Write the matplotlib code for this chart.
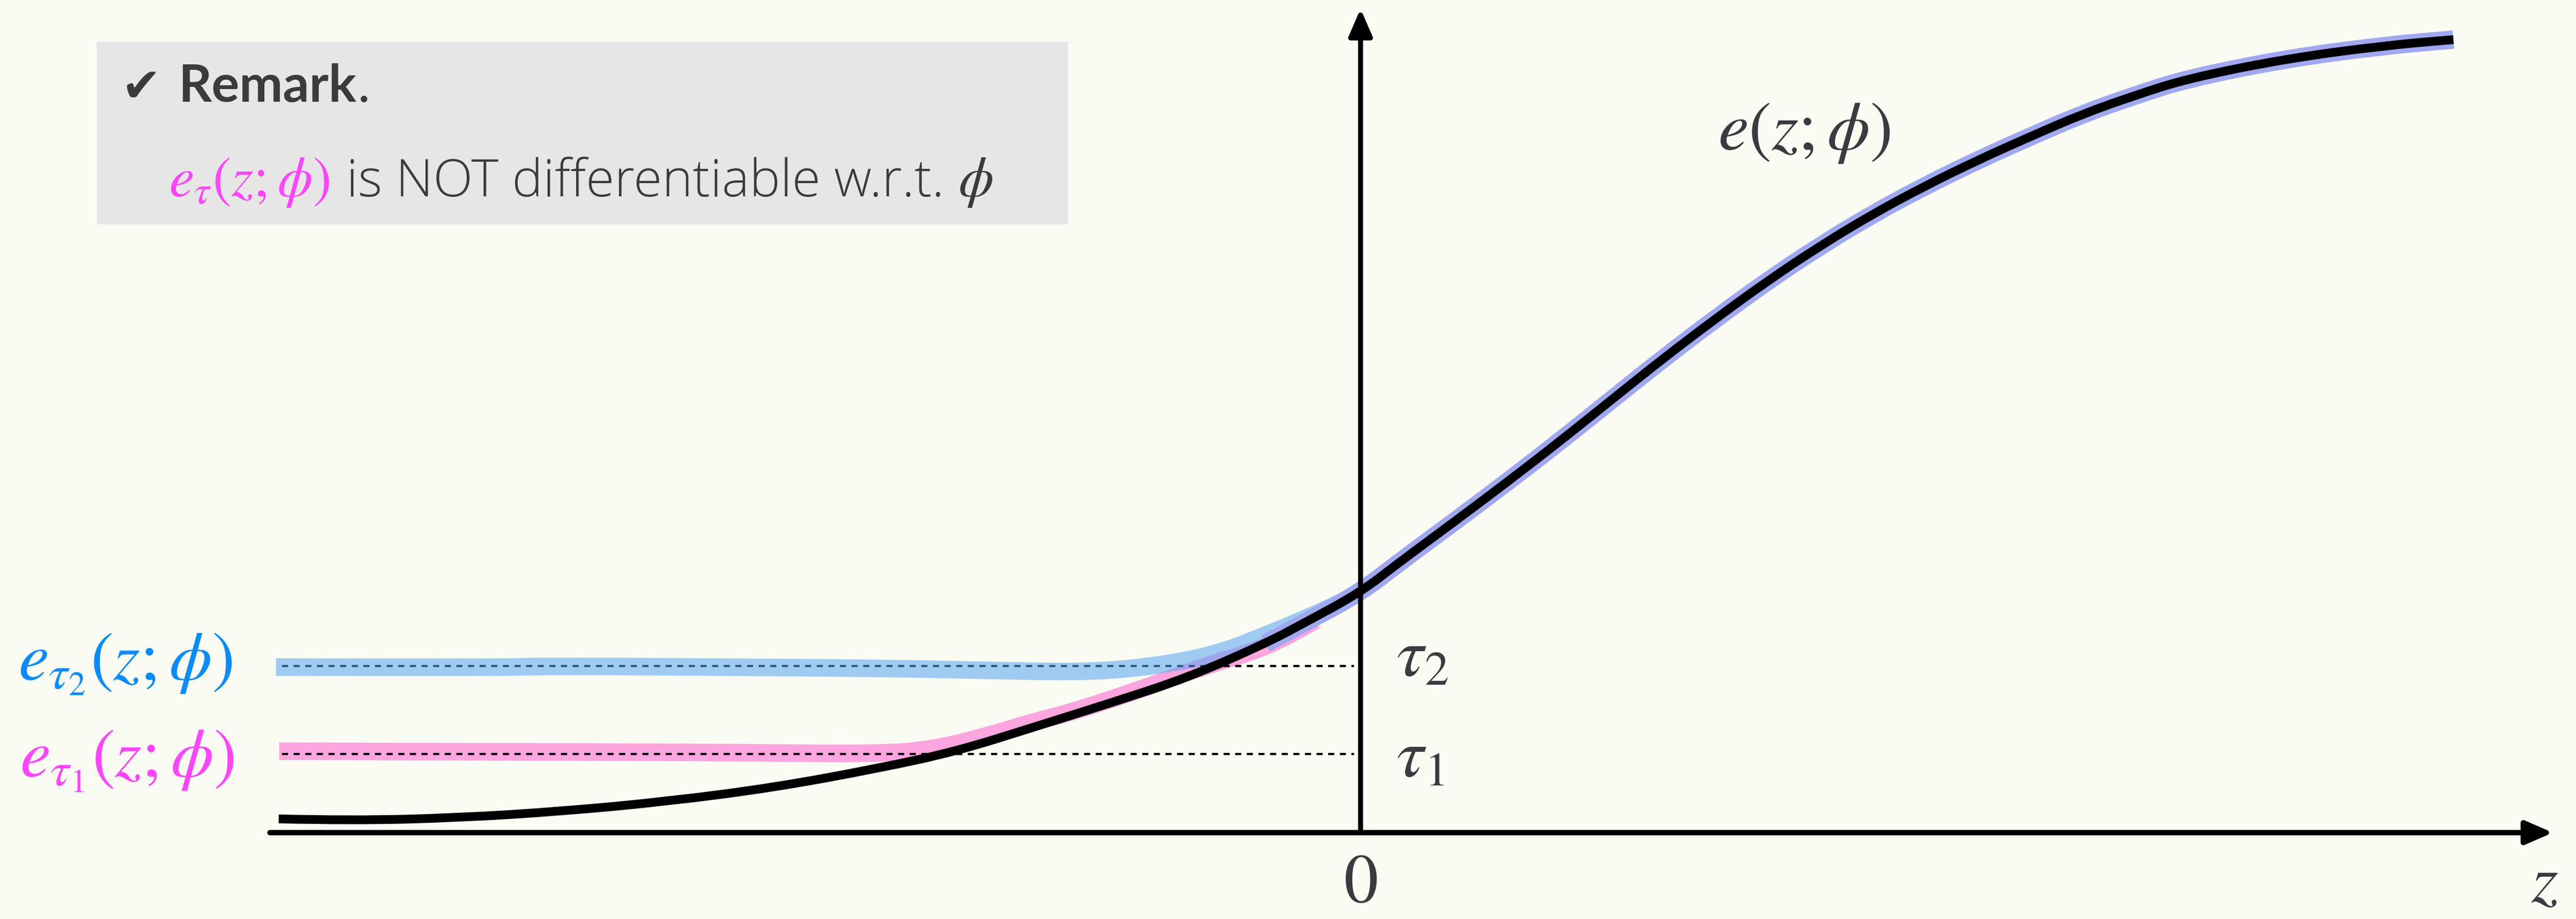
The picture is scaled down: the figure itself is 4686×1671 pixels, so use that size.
import numpy as np
import matplotlib.pyplot as plt
from matplotlib import patches
from matplotlib.path import Path

plt.rcParams['mathtext.fontset'] = 'stix'
plt.rcParams['font.family'] = ['Open Sans', 'DejaVu Sans']

# e(z; phi)
curve_z = [-19.68, -18.34, -16.42, -14.51, -12.60, -10.68, -8.77, -7.35, -5.94, -4.54,
           -3.14, -1.73, -1.03, 0.00, 0.71, 1.66, 2.62, 3.58, 4.54, 5.49,
           6.45, 7.40, 8.36, 9.32, 10.27, 11.23, 12.19, 13.14, 14.10, 15.04,
           16.82, 18.61, 19.88]
curve_e = [0.25, 0.22, 0.27, 0.39, 0.57, 0.82, 1.17, 1.48, 1.92, 2.36,
           2.82, 3.44, 3.81, 4.37, 4.92, 5.62, 6.34, 7.08, 7.85, 8.61,
           9.34, 10.03, 10.67, 11.25, 11.76, 12.23, 12.66, 13.07, 13.41, 13.71,
           14.07, 14.31, 14.42]

# e_tau2 (blue band)
blue_z = [-19.73, -15.75, -14.75, -11.75, -8.75, -6.75, -5.15, -4.15, -3.14, -2.44, -1.73, -1.03, -0.35]
blue_e = [3.01, 3.00, 3.03, 3.01, 2.99, 2.95, 2.92, 2.98, 3.13, 3.31, 3.59, 3.88, 4.19]

# e_tau1 (pink band)
pink_z = [-19.67, -15.75, -11.75, -8.77, -7.81, -6.85, -5.94, -5.25, -3.84, -2.75, -1.73, -0.82]
pink_e = [1.48, 1.47, 1.46, 1.43, 1.51, 1.74, 2.02, 2.19, 2.66, 3.06, 3.36, 3.86]

tau_levels = [1.43, 3.03]
tau_labels = [r'$\tau_1$', r'$\tau_2$']

BG = '#FAFBF2'
DARK = '#393B40'
BLUE = '#0A8CF7'
PINK = '#FF45FF'


def smooth_line(ax, xs, ys, **kw):
    # quadratic bezier through the midpoints, the read points act as control points
    pts = np.column_stack([xs, ys])
    verts = [pts[0]]
    codes = [Path.MOVETO]
    for i in range(1, len(pts) - 1):
        verts += [pts[i], (pts[i] + pts[i + 1]) / 2]
        codes += [Path.CURVE3, Path.CURVE3]
    verts.append(pts[-1])
    codes.append(Path.LINETO)
    p = patches.PathPatch(Path(verts, codes), fill=False, capstyle='butt',
                          joinstyle='round', **kw)
    ax.add_patch(p)
    return p


fig = plt.figure(figsize=(46.86, 16.71), dpi=100, facecolor=BG)
ax = fig.add_axes([0, 0, 1, 1])
ax.set_xlim(-24.75, 22.11)
ax.set_ylim(-1.57, 15.14)
ax.axis('off')
ax.set_facecolor(BG)

curve_z = np.array(curve_z)
curve_e = np.array(curve_e)

# bands and guides
smooth_line(ax, pink_z, pink_e, edgecolor='#FCA5DF', lw=23, zorder=1)
for lev in tau_levels:
    ax.plot([-19.62, -0.12], [lev, lev], color='black', lw=2.9,
            dashes=(2.75, 2.5), zorder=2)
smooth_line(ax, blue_z, blue_e, edgecolor='#55A5F5', alpha=0.55, lw=23, zorder=3)

upper = curve_z >= -1.73
smooth_line(ax, curve_z[upper], curve_e[upper], edgecolor='#A0A8F0', lw=24, zorder=4)

# axes with arrow heads
ax.annotate('', xy=(21.69, 0), xytext=(-19.84, 0),
            arrowprops=dict(arrowstyle='-|>,head_length=30,head_width=13', mutation_scale=1,
                            lw=7, color='black', shrinkA=0, shrinkB=0), zorder=5)
ax.annotate('', xy=(0, 14.98), xytext=(0, 0),
            arrowprops=dict(arrowstyle='-|>,head_length=30,head_width=13', mutation_scale=1,
                            lw=6.5, color='black', shrinkA=0, shrinkB=0), zorder=5)

smooth_line(ax, curve_z, curve_e, edgecolor='black', lw=11.5, zorder=6)

# labels
FS = 90
ax.text(-24.42, 2.77, r'$e_{\tau_2}(z;\phi)$', color=BLUE, fontsize=FS, ha='left', va='baseline')
ax.text(-24.39, 1.01, r'$e_{\tau_1}(z;\phi)$', color=PINK, fontsize=FS, ha='left', va='baseline')
ax.text(6.50, 12.42, r'$e(z;\phi)$', color=DARK, fontsize=FS, ha='left', va='baseline')
ax.text(0.65, 2.84, tau_labels[1], color=DARK, fontsize=FS, ha='left', va='baseline')
ax.text(0.65, 1.02, tau_labels[0], color=DARK, fontsize=FS, ha='left', va='baseline')
ax.text(0.0, -1.56, r'$0$', color=DARK, fontsize=FS, ha='center', va='bottom')
ax.text(21.54, -1.56, r'$z$', color=DARK, fontsize=FS, ha='center', va='bottom')

# remark box
box = patches.Rectangle((-22.99, 11.06), 17.67, 3.32, facecolor='#E6E6E6', edgecolor='none', zorder=7)
ax.add_patch(box)
ax.text(-22.55, 13.29, '\u2714', color='#3B3B3B', fontsize=62,
        family=['DejaVu Sans'], fontweight='bold', ha='left', va='baseline', zorder=8)
t0 = ax.text(-21.51, 13.29, 'Remark', color='#3B3B3B', fontsize=68, fontweight='bold',
             family=['Lato', 'DejaVu Sans'], ha='left', va='baseline', zorder=8)

renderer = fig.canvas.get_renderer()


def place_after(prev, s, gap_px, **kw):
    bb = prev.get_window_extent(renderer)
    x0, y0 = prev.get_position()
    xd = ax.transData.inverted().transform((bb.x1 + gap_px, 0))[0]
    return ax.text(xd, y0, s, ha='left', va='baseline', zorder=8, **kw)


place_after(t0, '.', 2, color='#3B3B3B', fontsize=68, family=['Lato', 'DejaVu Sans'])

t1 = ax.text(-21.68, 11.57, r'$e_{\tau}(z;\phi)$', color=PINK, fontsize=74,
             ha='left', va='baseline', zorder=8)
t2 = place_after(t1, 'is NOT differentiable w.r.t.', 30, color='#3B3B3B', fontsize=68, fontweight='light')
t3 = place_after(t2, r'$\phi$', 25, color='#3B3B3B', fontsize=74)

fig.savefig('out.png', dpi=100, facecolor=BG)
